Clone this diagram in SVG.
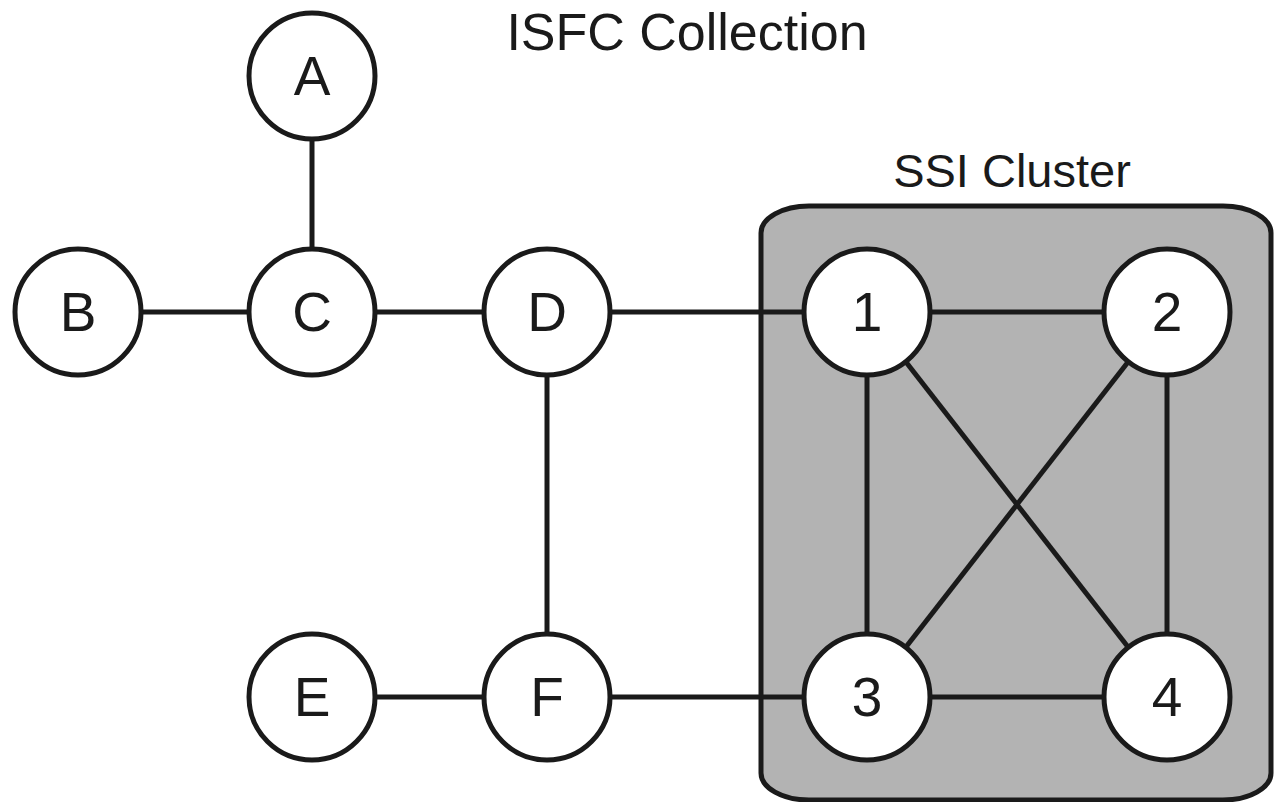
<svg xmlns="http://www.w3.org/2000/svg" width="1274" height="802" viewBox="0 0 1274 802">
<style>
.node circle{fill:#ffffff;stroke:#1a1a1a;stroke-width:5}
.node text,.title{font-family:"Liberation Sans",Arial,sans-serif;fill:#1a1a1a;text-anchor:middle}
.node text{font-size:55px}
.edges line{stroke:#1a1a1a;stroke-width:5}
</style>
<rect width="1274" height="802" fill="#ffffff"/>
<text class="title" x="687" y="50" font-size="52">ISFC Collection</text>
<g id="cluster">
<rect x="761" y="206" width="510" height="594" rx="48" ry="27" fill="#b3b3b3" stroke="#1a1a1a" stroke-width="5"/>
<text class="title" x="1012" y="187" font-size="47">SSI Cluster</text>
</g>
<g class="edges" id="connectors">
<line x1="312" y1="76" x2="312" y2="312"/>
<line x1="78" y1="312" x2="312" y2="312"/>
<line x1="312" y1="312" x2="547" y2="312"/>
<line x1="547" y1="312" x2="867" y2="312"/>
<line x1="547" y1="312" x2="547" y2="697"/>
<line x1="312" y1="697" x2="547" y2="697"/>
<line x1="547" y1="697" x2="867" y2="697"/>
<line x1="867" y1="312" x2="1167" y2="312"/>
<line x1="867" y1="312" x2="867" y2="697"/>
<line x1="867" y1="312" x2="1167" y2="697"/>
<line x1="1167" y1="312" x2="867" y2="697"/>
<line x1="1167" y1="312" x2="1167" y2="697"/>
<line x1="867" y1="697" x2="1167" y2="697"/>
</g>
<g class="node" id="node-A"><circle cx="312" cy="76" r="63"/><text x="312" y="95">A</text></g>
<g class="node" id="node-B"><circle cx="78" cy="312" r="63"/><text x="78" y="331">B</text></g>
<g class="node" id="node-C"><circle cx="312" cy="312" r="63"/><text x="312" y="331">C</text></g>
<g class="node" id="node-D"><circle cx="547" cy="312" r="63"/><text x="547" y="331">D</text></g>
<g class="node" id="node-E"><circle cx="312" cy="697" r="63"/><text x="312" y="716">E</text></g>
<g class="node" id="node-F"><circle cx="547" cy="697" r="63"/><text x="547" y="716">F</text></g>
<g class="node" id="node-1"><circle cx="867" cy="312" r="63"/><text x="867" y="331">1</text></g>
<g class="node" id="node-2"><circle cx="1167" cy="312" r="63"/><text x="1167" y="331">2</text></g>
<g class="node" id="node-3"><circle cx="867" cy="697" r="63"/><text x="867" y="716">3</text></g>
<g class="node" id="node-4"><circle cx="1167" cy="697" r="63"/><text x="1167" y="716">4</text></g>
</svg>
